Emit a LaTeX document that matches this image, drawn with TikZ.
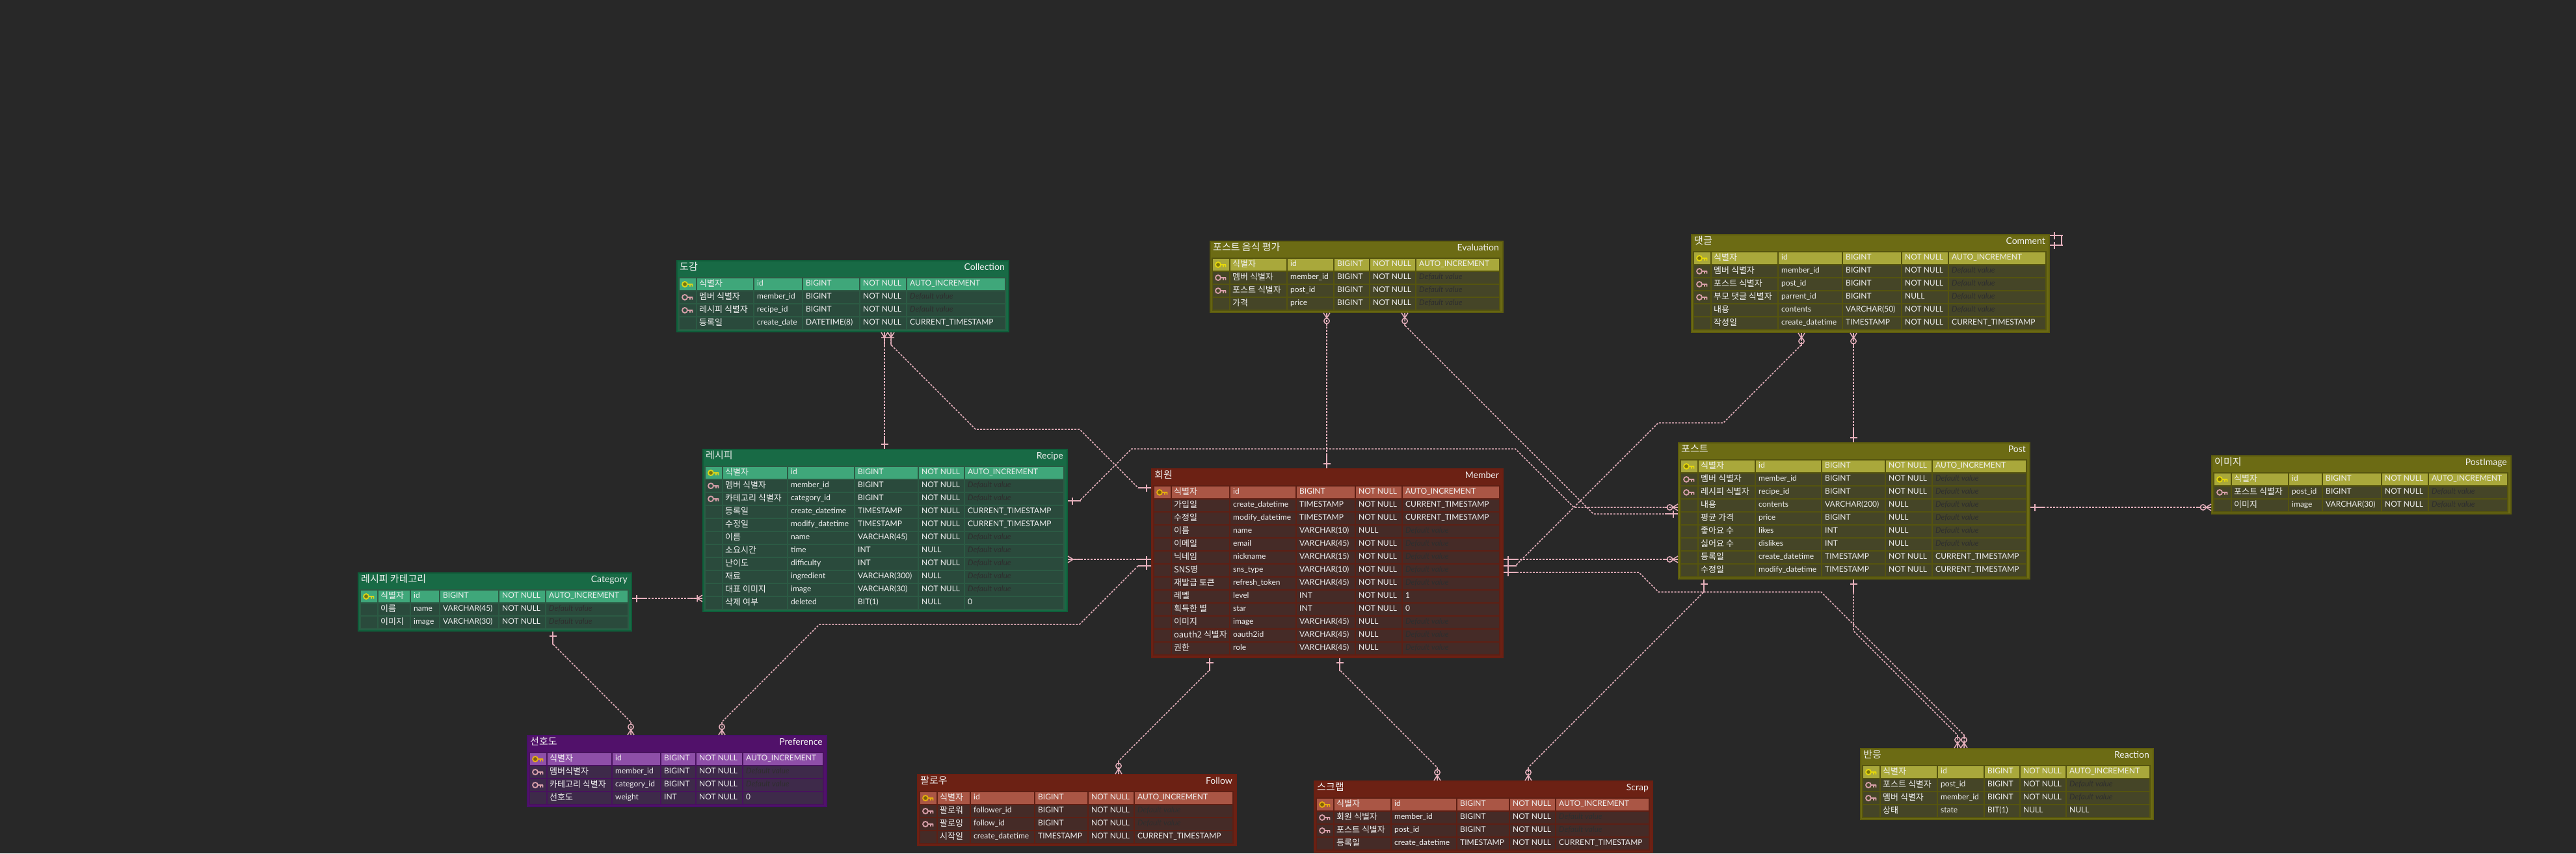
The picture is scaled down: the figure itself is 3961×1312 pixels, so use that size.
\documentclass[tikz,border=0pt]{standalone}
\usepackage{fontspec}
\setmainfont{Lato}
\newfontfamily\krfont{Noto Sans CJK KR}

\definecolor{canvas}{HTML}{282828}
\definecolor{linkpink}{HTML}{E6B0BC}
\definecolor{fkpink}{HTML}{D8A0AA}
\definecolor{defaultgray}{HTML}{2E2E2E}
\definecolor{greentitle}{HTML}{186A45}
\definecolor{greenborder}{HTML}{0F5E3A}
\definecolor{greenpk}{HTML}{3FA77A}
\definecolor{greenrow}{HTML}{2A4A3C}
\definecolor{greengrid}{HTML}{2C5A44}
\definecolor{greenkey}{HTML}{D9D51C}
\definecolor{redtitle}{HTML}{6C2114}
\definecolor{redborder}{HTML}{6C1F12}
\definecolor{redpk}{HTML}{AA5645}
\definecolor{redrow}{HTML}{452B27}
\definecolor{redgrid}{HTML}{5E1F14}
\definecolor{redkey}{HTML}{E6AE0F}
\definecolor{olivetitle}{HTML}{6C6B14}
\definecolor{oliveborder}{HTML}{5E5D0E}
\definecolor{olivepk}{HTML}{A9A83B}
\definecolor{oliverow}{HTML}{454527}
\definecolor{olivegrid}{HTML}{55540F}
\definecolor{olivekey}{HTML}{E6D80A}
\definecolor{purpletitle}{HTML}{51116A}
\definecolor{purpleborder}{HTML}{48106A}
\definecolor{purplepk}{HTML}{8E4FA8}
\definecolor{purplerow}{HTML}{3E2A4A}
\definecolor{purplegrid}{HTML}{48125E}
\definecolor{purplekey}{HTML}{E8AE18}

\newcommand{\dv}{{\itshape\color{defaultgray}Default value}}

\tikzset{
	tablebox/.style={anchor=north west, inner sep=0pt, line width=2pt},
	cellbox/.style={line width=1.5pt},
	celltext/.style={anchor=base west, inner sep=0pt, text=white!94!black, font=\fontsize{12}{14}\selectfont},
	cellko/.style={celltext, font=\krfont\fontsize{13}{15}\selectfont},
	titleko/.style={anchor=base west, inner sep=0pt, text=white!94!black, font=\krfont\fontsize{15}{17}\selectfont},
	titleen/.style={anchor=base east, inner sep=0pt, text=white!94!black, font=\fontsize{14}{16}\selectfont},
	rel/.style={draw=linkpink, line width=1.5pt, dash pattern=on 3pt off 2pt},
	relend/.style={draw=linkpink, line width=1.5pt, solid},
	endone/.pic={\draw[relend] (0,0) -- (20,0) (7,-5.5) -- (7,5.5);},
	endmany/.pic={\draw[relend] (0,0) -- (20,0) (0,-5) -- (8,0) -- (0,5);},
	endonemany/.pic={\draw[relend] (0,0) -- (20,0) (0,-5) -- (8,0) -- (0,5) (8,-5) -- (8,5);},
	endzero/.pic={\draw[relend] (0,0) -- (8,0) (0,-5) -- (8,0) -- (0,5) (17,0) -- (20,0) (12.5,0) circle (4.2);},
	keyicon/.pic={\draw[line width=1.8pt, pic actions] (0,0) circle (4) (4,0) -- (12,0) (11.5,0) -- (11.5,3.5) (8,0) -- (8,3.5);},
}

% box and title of one table, the rows come after it
\newcommand{\erdbox}[8]{
	\def\curname{#1}\def\curtheme{#2}\def\tx{#3}\def\ty{#4}\def\tw{#5}
	\node[tablebox, fill=#2title, draw=#2border, minimum width=#5, minimum height=#6] (#1) at (#3,#4) {};
	\node[titleko] (#1-ko) at (#3+5,#4+15) {#7};
	\node[titleen] (#1-en) at (#3+#5-5,#4+15) {#8};
}
% #1..#4 are the left edges of the id, type, null and default columns
\newcommand{\erdrows}[5]{
	\pgfmathsetmacro\tend{\tx+\tw-4}
	\foreach \keytype/\kotext/\idtext/\typetext/\nulltext/\deftext [count=\rownum from 0] in {#5}{
		\pgfmathsetmacro\rowy{\ty+27+20*\rownum}
		\pgfmathsetmacro\rowb{\rowy+20}
		\ifnum\rownum=0 \def\rowfill{\curtheme pk}\else\def\rowfill{\curtheme row}\fi
		\draw[cellbox, draw=\curtheme grid, fill=\rowfill]
			(\tx+4,\rowy) rectangle (\tx+31,\rowb)
			(\tx+31,\rowy) rectangle (#1-1,\rowb)
			(#1-1,\rowy) rectangle (#2-1,\rowb)
			(#2-1,\rowy) rectangle (#3-1,\rowb)
			(#3-1,\rowy) rectangle (#4-1,\rowb)
			(#4-1,\rowy) rectangle (\tend,\rowb);
		\if p\keytype \pic[draw=\curtheme key, fill=\curtheme key!55!black] at (\tx+13,\rowy+10) {keyicon}; \fi
		\if f\keytype \pic[draw=fkpink] at (\tx+13,\rowy+10) {keyicon}; \fi
		\node[cellko] (\curname-\rownum-ko) at (\tx+35,\rowy+13) {\kotext};
		\node[celltext] (\curname-\rownum-id) at (#1+4,\rowy+12.5) {\idtext};
		\node[celltext] (\curname-\rownum-type) at (#2+4,\rowy+12.5) {\typetext};
		\node[celltext] (\curname-\rownum-null) at (#3+4,\rowy+12.5) {\nulltext};
		\node[celltext] (\curname-\rownum-def) at (#4+4,\rowy+12.5) {\deftext};
	}
}

\begin{document}
\begin{tikzpicture}[x=1pt,y=-1pt]
	\fill[canvas] (0,0) rectangle (3961,1312);

	% tables
	\erdbox{collection}{green}{1040}{400}{510}{109}{도감}{Collection}
	\erdrows{1160}{1235}{1323}{1395}{
		p/식별자/id/BIGINT/NOT NULL/AUTO\_INCREMENT,
		f/멤버 식별자/member\_id/BIGINT/NOT NULL/\dv,
		f/레시피 식별자/recipe\_id/BIGINT/NOT NULL/\dv,
		n/등록일/create\_date/DATETIME(8)/NOT NULL/CURRENT\_TIMESTAMP}

	\erdbox{recipe}{green}{1080}{690}{560}{249}{레시피}{Recipe}
	\erdrows{1212}{1315}{1413}{1484}{
		p/식별자/id/BIGINT/NOT NULL/AUTO\_INCREMENT,
		f/멤버 식별자/member\_id/BIGINT/NOT NULL/\dv,
		f/카테고리 식별자/category\_id/BIGINT/NOT NULL/\dv,
		n/등록일/create\_datetime/TIMESTAMP/NOT NULL/CURRENT\_TIMESTAMP,
		n/수정일/modify\_datetime/TIMESTAMP/NOT NULL/CURRENT\_TIMESTAMP,
		n/이름/name/VARCHAR(45)/NOT NULL/\dv,
		n/소요시간/time/INT/NULL/\dv,
		n/난이도/difficulty/INT/NOT NULL/\dv,
		n/재료/ingredient/VARCHAR(300)/NULL/\dv,
		n/대표 이미지/image/VARCHAR(30)/NOT NULL/\dv,
		n/삭제 여부/deleted/BIT(1)/NULL/0}

	\erdbox{category}{green}{550}{880}{420}{89}{레시피 카테고리}{Category}
	\erdrows{632}{677}{768}{840}{
		p/식별자/id/BIGINT/NOT NULL/AUTO\_INCREMENT,
		n/이름/name/VARCHAR(45)/NOT NULL/\dv,
		n/이미지/image/VARCHAR(30)/NOT NULL/\dv}

	\erdbox{preference}{purple}{810}{1130}{460}{109}{선호도}{Preference}
	\erdrows{942}{1017}{1071}{1143}{
		p/식별자/id/BIGINT/NOT NULL/AUTO\_INCREMENT,
		f/멤버식별자/member\_id/BIGINT/NOT NULL/\dv,
		f/카테고리 식별자/category\_id/BIGINT/NOT NULL/\dv,
		n/선호도/weight/INT/NOT NULL/0}

	\erdbox{member}{red}{1770}{720}{540}{290}{회원}{Member}
	\erdrows{1892}{1994}{2085}{2157}{
		p/식별자/id/BIGINT/NOT NULL/AUTO\_INCREMENT,
		n/가입일/create\_datetime/TIMESTAMP/NOT NULL/CURRENT\_TIMESTAMP,
		n/수정일/modify\_datetime/TIMESTAMP/NOT NULL/CURRENT\_TIMESTAMP,
		n/이름/name/VARCHAR(10)/NULL/\dv,
		n/이메일/email/VARCHAR(45)/NOT NULL/\dv,
		n/닉네임/nickname/VARCHAR(15)/NOT NULL/\dv,
		n/SNS명/sns\_type/VARCHAR(10)/NOT NULL/\dv,
		n/재발급 토큰/refresh\_token/VARCHAR(45)/NOT NULL/\dv,
		n/레벨/level/INT/NOT NULL/1,
		n/획득한 별/star/INT/NOT NULL/0,
		n/이미지/image/VARCHAR(45)/NULL/\dv,
		n/oauth2 식별자/oauth2id/VARCHAR(45)/NULL/\dv,
		n/권한/role/VARCHAR(45)/NULL/\dv}

	\erdbox{follow}{red}{1410}{1190}{490}{109}{팔로우}{Follow}
	\erdrows{1493}{1592}{1674}{1745}{
		p/식별자/id/BIGINT/NOT NULL/AUTO\_INCREMENT,
		f/팔로워/follower\_id/BIGINT/NOT NULL/\dv,
		f/팔로잉/follow\_id/BIGINT/NOT NULL/\dv,
		n/시작일/create\_datetime/TIMESTAMP/NOT NULL/CURRENT\_TIMESTAMP}

	\erdbox{scrap}{red}{2020}{1200}{520}{109}{스크랩}{Scrap}
	\erdrows{2140}{2241}{2322}{2393}{
		p/식별자/id/BIGINT/NOT NULL/AUTO\_INCREMENT,
		f/회원 식별자/member\_id/BIGINT/NOT NULL/\dv,
		f/포스트 식별자/post\_id/BIGINT/NOT NULL/\dv,
		n/등록일/create\_datetime/TIMESTAMP/NOT NULL/CURRENT\_TIMESTAMP}

	\erdbox{evaluation}{olive}{1860}{370}{450}{109}{포스트 음식 평가}{Evaluation}
	\erdrows{1980}{2052}{2107}{2178}{
		p/식별자/id/BIGINT/NOT NULL/AUTO\_INCREMENT,
		f/멤버 식별자/member\_id/BIGINT/NOT NULL/\dv,
		f/포스트 식별자/post\_id/BIGINT/NOT NULL/\dv,
		n/가격/price/BIGINT/NOT NULL/\dv}

	\erdbox{comment}{olive}{2600}{360}{550}{150}{댓글}{Comment}
	\erdrows{2735}{2834}{2925}{2997}{
		p/식별자/id/BIGINT/NOT NULL/AUTO\_INCREMENT,
		f/멤버 식별자/member\_id/BIGINT/NOT NULL/\dv,
		f/포스트 식별자/post\_id/BIGINT/NOT NULL/\dv,
		f/부모 댓글 식별자/parrent\_id/BIGINT/NULL/\dv,
		n/내용/contents/VARCHAR(50)/NOT NULL/\dv,
		n/작성일/create\_datetime/TIMESTAMP/NOT NULL/CURRENT\_TIMESTAMP}

	\erdbox{post}{olive}{2580}{680}{540}{209}{포스트}{Post}
	\erdrows{2700}{2802}{2900}{2972}{
		p/식별자/id/BIGINT/NOT NULL/AUTO\_INCREMENT,
		f/멤버 식별자/member\_id/BIGINT/NOT NULL/\dv,
		f/레시피 식별자/recipe\_id/BIGINT/NOT NULL/\dv,
		n/내용/contents/VARCHAR(200)/NULL/\dv,
		n/평균 가격/price/BIGINT/NULL/\dv,
		n/좋아요 수/likes/INT/NULL/\dv,
		n/싫어요 수/dislikes/INT/NULL/\dv,
		n/등록일/create\_datetime/TIMESTAMP/NOT NULL/CURRENT\_TIMESTAMP,
		n/수정일/modify\_datetime/TIMESTAMP/NOT NULL/CURRENT\_TIMESTAMP}

	\erdbox{postimage}{olive}{3400}{700}{460}{89}{이미지}{PostImage}
	\erdrows{3520}{3572}{3663}{3735}{
		p/식별자/id/BIGINT/NOT NULL/AUTO\_INCREMENT,
		f/포스트 식별자/post\_id/BIGINT/NOT NULL/\dv,
		n/이미지/image/VARCHAR(30)/NOT NULL/\dv}

	\erdbox{reaction}{olive}{2860}{1150}{450}{109}{반응}{Reaction}
	\erdrows{2980}{3052}{3107}{3178}{
		p/식별자/id/BIGINT/NOT NULL/AUTO\_INCREMENT,
		f/포스트 식별자/post\_id/BIGINT/NOT NULL/\dv,
		f/멤버 식별자/member\_id/BIGINT/NOT NULL/\dv,
		n/상태/state/BIT(1)/NULL/NULL}

	% relations
	\draw[rel] (collection.south -| 1360,0) pic[rotate=-90]{endonemany} -- (recipe.north -| 1360,0) pic[rotate=90]{endone};
	\draw[rel] (collection.south -| 1370,0) pic[rotate=-90]{endonemany} -- (1370,530) -- (1500,660) -- (1660,660) -- (1750,750) -- (member.west |- 0,750) pic[rotate=180]{endone};
	\draw[rel] (recipe.east |- 0,770) pic{endone} -- (1660,770) -- (1740,690) -- (2330,690) -- (2420,780) -- (post.west |- 0,780) pic[rotate=180]{endzero};
	\draw[rel] (recipe.east |- 0,860) pic{endmany} -- (member.west |- 0,860) pic[rotate=180]{endone};
	\draw[rel] (category.east |- 0,920) pic{endone} -- (recipe.west |- 0,920) pic[rotate=180]{endonemany};
	\draw[rel] (category.south -| 850,0) pic[rotate=-90]{endone} -- (850,990) -- (970,1110) -- (preference.north -| 970,0) pic[rotate=90]{endzero};
	\draw[rel] (member.west |- 0,870) pic[rotate=180]{endone} -- (1750,870) -- (1660,960) -- (1260,960) -- (1110,1110) -- (preference.north -| 1110,0) pic[rotate=90]{endzero};
	\draw[rel] (member.north -| 2040,0) pic[rotate=90]{endone} -- (evaluation.south -| 2040,0) pic[rotate=-90]{endzero};
	\draw[rel] (evaluation.south -| 2160,0) pic[rotate=-90]{endzero} -- (2160,500) -- (2450,790) -- (post.west |- 0,790) pic[rotate=180]{endone};
	\draw[rel] (member.east |- 0,860) pic{endone} -- (post.west |- 0,860) pic[rotate=180]{endzero};
	\draw[rel] (member.east |- 0,870) pic{endone} -- (2330,870) -- (2550,650) -- (2650,650) -- (2770,530) -- (comment.south -| 2770,0) pic[rotate=-90]{endzero};
	\draw[rel] (member.east |- 0,880) pic{endone} -- (2520,880) -- (2550,910) -- (2800,910) -- (3020,1130) -- (reaction.north -| 3020,0) pic[rotate=90]{endzero};
	\draw[rel] (comment.south -| 2850,0) pic[rotate=-90]{endzero} -- (post.north -| 2850,0) pic[rotate=90]{endone};
	\draw[relend] (comment.east |- 0,362) pic{endone} -- (3170,362) -- (3170,377) -- (comment.east |- 0,377) pic{endone};
	\draw[rel] (post.east |- 0,780) pic{endone} -- (postimage.west |- 0,780) pic[rotate=180]{endzero};
	\draw[rel] (post.south -| 2620,0) pic[rotate=-90]{endone} -- (2620,910) -- (2350,1180) -- (scrap.north -| 2350,0) pic[rotate=90]{endzero};
	\draw[rel] (post.south -| 2850,0) pic[rotate=-90]{endone} -- (2850,970) -- (3010,1130) -- (reaction.north -| 3010,0) pic[rotate=90]{endzero};
	\draw[rel] (member.south -| 1860,0) pic[rotate=-90]{endone} -- (1860,1030) -- (1720,1170) -- (follow.north -| 1720,0) pic[rotate=90]{endzero};
	\draw[rel] (member.south -| 2060,0) pic[rotate=-90]{endone} -- (2060,1030) -- (2210,1180) -- (scrap.north -| 2210,0) pic[rotate=90]{endzero};
\end{tikzpicture}
\end{document}
